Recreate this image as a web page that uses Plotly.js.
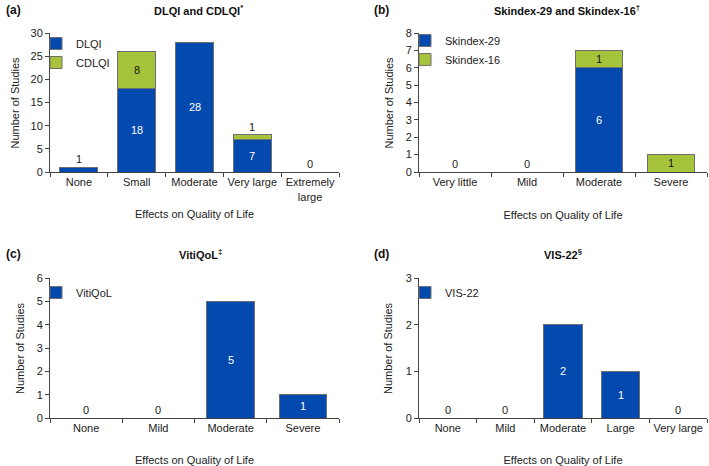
<!DOCTYPE html>
<html><head><meta charset="utf-8">
<script src="https://cdn.plot.ly/plotly-3.0.1.min.js"></script>
<style>html,body{margin:0;padding:0;background:#fff}#chart{width:709px;height:466px}</style>
</head><body><div id="chart"></div>
<script>
// ---- data ----
const catsA = ["None", "Small", "Moderate", "Very large", "Extremely<br>large"];
const dlqi  = [1, 18, 28, 7, 0];
const cdlqi = [0, 8, 0, 1, 0];

const catsB = ["Very little", "Mild", "Moderate", "Severe"];
const skindex29 = [0, 0, 6, 0];
const skindex16 = [0, 0, 1, 1];

const catsC = ["None", "Mild", "Moderate", "Severe"];
const vitiqol = [0, 0, 5, 1];

const catsD = ["None", "Mild", "Moderate", "Large", "Very large"];
const vis22 = [0, 0, 2, 1, 0];

const titles = ["DLQI and CDLQI<sup>*</sup>", "Skindex-29 and Skindex-16<sup>†</sup>", "VitiQoL<sup>‡</sup>", "VIS-22<sup>§</sup>"];
const panelLabels = ["(a)", "(b)", "(c)", "(d)"];
const xTitle = "Effects on Quality of Life";
const yTitle = "Number of Studies";
const yMax = [30, 8, 6, 3];
const yStep = [5, 1, 1, 1];

// ---- style ----
const BLUE = "#0449ad", GREEN = "#a5c43c", EDGE = "#6f6f6f";
const FONT = "Liberation Sans, Arial, sans-serif";

const panels = [
  {cats: catsA, series: [{name: "DLQI", y: dlqi, color: BLUE}, {name: "CDLQI", y: cdlqi, color: GREEN}]},
  {cats: catsB, series: [{name: "Skindex-29", y: skindex29, color: BLUE}, {name: "Skindex-16", y: skindex16, color: GREEN}]},
  {cats: catsC, series: [{name: "VitiQoL", y: vitiqol, color: BLUE}]},
  {cats: catsD, series: [{name: "VIS-22", y: vis22, color: BLUE}]}
];

const W = 709, H = 466;
const px = v => v / W, py = v => 1 - v / H;
const boxes = [
  {x0: 50, x1: 339, top: 33, bot: 172, titleX: 198, titleY: 10, labX: 4, labY: 10, legX: 36, legY: 29, yTitX: 14},
  {x0: 419, x1: 707, top: 33, bot: 172, titleX: 567, titleY: 10, labX: 372, labY: 10, legX: 405, legY: 26, yTitX: 388},
  {x0: 50, x1: 339, top: 278, bot: 418, titleX: 200, titleY: 254, labX: 4, labY: 254, legX: 36, legY: 278, yTitX: 20},
  {x0: 419, x1: 707, top: 278, bot: 418, titleX: 563, titleY: 254, labX: 372, labY: 254, legX: 405, legY: 278, yTitX: 388}
];
const standoffX = [8, 24, 24, 24];

const traces = [], annotations = [], layout = {
  width: W, height: H, margin: {l: 0, r: 0, t: 0, b: 0},
  paper_bgcolor: "#fff", plot_bgcolor: "#fff",
  barmode: "stack", bargap: 0.34,
  font: {family: FONT, size: 11, color: "#222"},
  showlegend: true
};

panels.forEach((p, i) => {
  const n = i + 1;
  const xa = "x" + (n === 1 ? "" : n), ya = "y" + (n === 1 ? "" : n);
  const xk = "xaxis" + (n === 1 ? "" : n), yk = "yaxis" + (n === 1 ? "" : n);
  const lk = "legend" + (n === 1 ? "" : n);
  const b = boxes[i];
  p.series.forEach(s => {
    traces.push({
      type: "bar", name: s.name, x: p.cats, y: s.y, xaxis: xa, yaxis: ya,
      legend: lk,
      marker: {color: s.color, line: {color: EDGE, width: 1}},
      hoverinfo: "x+y+name"
    });
  });
  layout[xk] = {
    domain: [px(b.x0), px(b.x1)], anchor: ya,
    type: "category", range: [-0.5, p.cats.length - 0.5],
    showline: true, linecolor: "#444", linewidth: 1,
    ticks: "outside", tickson: "boundaries", ticklen: 4, tickcolor: "#444",
    tickangle: 0,
    showgrid: false, zeroline: false, fixedrange: true,
    tickfont: {size: 11, color: "#222"},
    title: {text: xTitle, font: {size: 11, color: "#222"}, standoff: standoffX[i]},
    automargin: false
  };
  layout[yk] = {
    domain: [py(b.bot), py(b.top)], anchor: xa,
    range: [0, yMax[i]], dtick: yStep[i], tick0: 0,
    showline: true, linecolor: "#444", linewidth: 1,
    ticks: "outside", ticklen: 4, tickcolor: "#444",
    showgrid: false, zeroline: false, fixedrange: true,
    tickfont: {size: 11, color: "#222"},
    automargin: false
  };
  layout[lk] = {
    x: px(b.legX), y: py(b.legY), xanchor: "left", yanchor: "top",
    bgcolor: "rgba(0,0,0,0)", traceorder: "normal",
    font: {size: 11, color: "#222"}, tracegroupgap: 0, itemwidth: 30
  };
  // y-axis title
  annotations.push({text: yTitle, xref: "paper", yref: "paper",
    x: px(b.yTitX), y: py((b.top + b.bot) / 2), xanchor: "center", yanchor: "middle",
    textangle: -90, showarrow: false, font: {size: 11, color: "#222"}});
  // subplot title and panel label
  annotations.push({text: "<b>" + titles[i] + "</b>", xref: "paper", yref: "paper",
    x: px(b.titleX), y: py(b.titleY), xanchor: "center", yanchor: "middle", showarrow: false,
    font: {size: 11, color: "#111"}});
  annotations.push({text: "<b>" + panelLabels[i] + "</b>", xref: "paper", yref: "paper",
    x: px(b.labX), y: py(b.labY), xanchor: "left", yanchor: "middle", showarrow: false,
    font: {size: 12, color: "#111"}});
  // value labels
  const thr = 0.1 * yMax[i];
  p.cats.forEach((c, k) => {
    let base = 0, total = 0;
    p.series.forEach(s => total += s.y[k]);
    if (total === 0) {
      annotations.push({text: "0", x: c, y: 0, xref: xa, yref: ya, xanchor: "center", yanchor: "bottom",
        showarrow: false, font: {size: 11, color: "#222"}});
      return;
    }
    p.series.forEach(s => {
      const v = s.y[k];
      if (v > 0) {
        if (v >= thr) {
          annotations.push({text: String(v), x: c, y: base + v / 2, xref: xa, yref: ya,
            xanchor: "center", yanchor: "middle", showarrow: false,
            font: {size: 11, color: s.color === BLUE ? "#fff" : "#111"}});
        } else {
          annotations.push({text: String(v), x: c, y: total, xref: xa, yref: ya,
            xanchor: "center", yanchor: "bottom", showarrow: false, font: {size: 11, color: "#222"}});
        }
      }
      base += v;
    });
  });
});
layout.annotations = annotations;
Plotly.newPlot("chart", traces, layout, {displayModeBar: false, staticPlot: true});
</script></body></html>
